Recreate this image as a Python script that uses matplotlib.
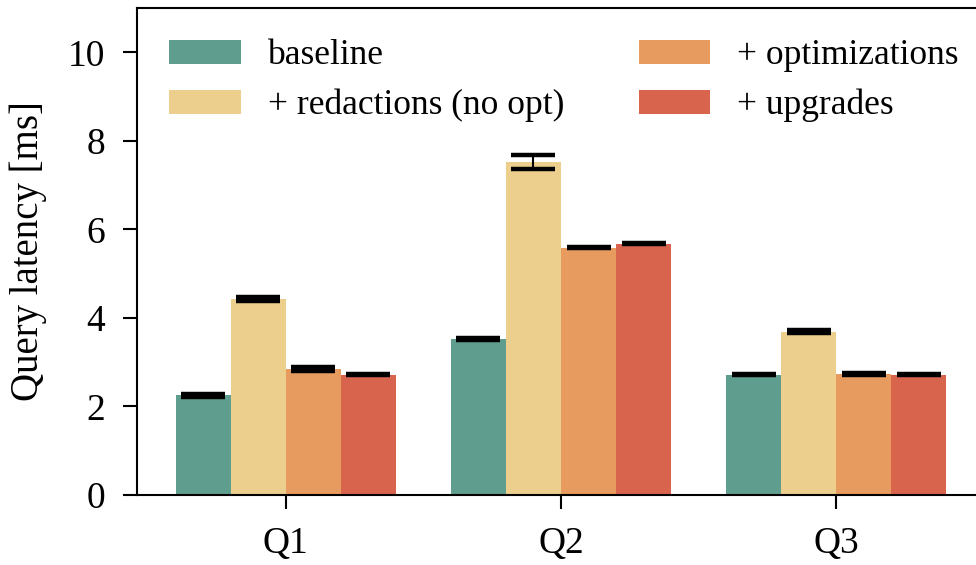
import matplotlib
matplotlib.use("Agg")
import matplotlib.pyplot as plt
import numpy as np

plt.rcParams['font.family'] = ['Liberation Serif', 'DejaVu Serif']

categories = ["Q1", "Q2", "Q3"]
series_names = ["baseline", "+ redactions (no opt)", "+ optimizations", "+ upgrades"]
baseline = [2.25, 3.52, 2.72]
redactions = [4.43, 7.53, 3.69]
optimizations = [2.84, 5.59, 2.74]
upgrades = [2.72, 5.68, 2.72]
baseline_err = [0.03, 0.02, 0.01]
redactions_err = [0.05, 0.16, 0.04]
optimizations_err = [0.04, 0.02, 0.02]
upgrades_err = [0.01, 0.02, 0.01]
yticks = [0, 2, 4, 6, 8, 10]

colors = ["#5f9e8e", "#edcf8d", "#e79b5e", "#d9644d"]

fig = plt.figure(figsize=(9.76, 5.65), dpi=100)
ax = fig.add_axes([137/976, 1 - 495/565, (985 - 137)/976, (495 - 8)/565])

x = np.arange(len(categories))
width = 0.2
values = [baseline, redactions, optimizations, upgrades]
errs = [baseline_err, redactions_err, optimizations_err, upgrades_err]
for i, (vals, err, name, c) in enumerate(zip(values, errs, series_names, colors)):
    ax.bar(x + (i - 1.5) * width, vals, width, color=c, label=name,
           yerr=err, capsize=16,
           error_kw=dict(ecolor='black', elinewidth=1.5, capthick=3.2))

ax.set_xlim(-0.54, 2.54)
ax.set_ylim(0, 11)
ax.set_xticks(x)
ax.set_xticklabels(categories)
ax.set_yticks(yticks)
ax.tick_params(axis='both', labelsize=27, length=10, width=1.5, direction='out', pad=13)
for s in ['left', 'bottom', 'top']:
    ax.spines[s].set_linewidth(1.5)
ax.spines['right'].set_visible(False)
ax.set_ylabel("Query latency [ms]", fontsize=28)
ax.yaxis.set_label_coords((47 - 137) / 848, 0.5)

ax.legend(ncol=2, loc='upper left', bbox_to_anchor=(169/976, 1 - 39.5/565),
          bbox_transform=fig.transFigure, frameon=False, fontsize=25.5,
          handlelength=2.03, handleheight=0.68, handletextpad=0.76,
          labelspacing=0.46, columnspacing=2.1, borderpad=0, borderaxespad=0)

fig.savefig("out.png", dpi=100)
